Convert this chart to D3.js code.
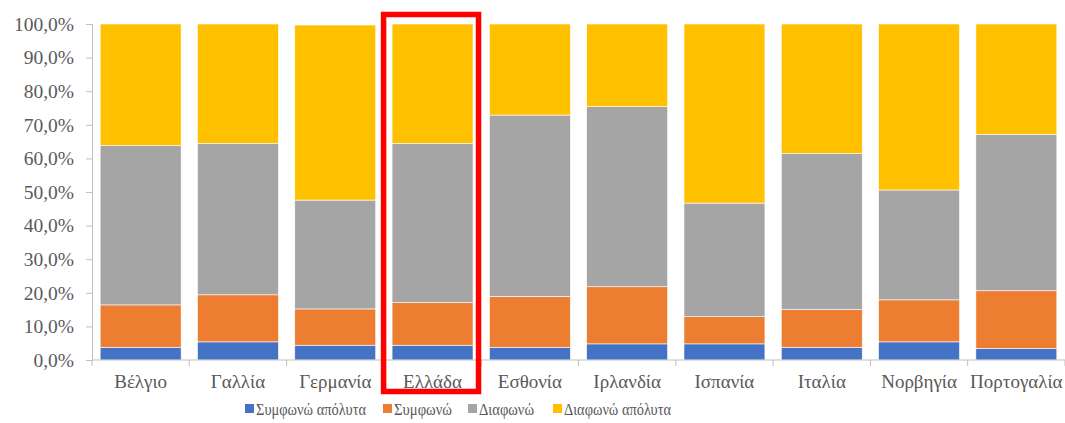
<!DOCTYPE html>
<html>
<head>
<meta charset="utf-8">
<script src="https://cdn.jsdelivr.net/npm/d3@7"></script>
<style>
  body { margin: 0; background: #fff; }
  svg text { font-family: "Liberation Serif", "Times New Roman", serif; fill: #595959; }
</style>
</head>
<body>
<svg id="chart" width="1065" height="423"></svg>
<script>
// countries along the x axis
const countries = ["Βέλγιο", "Γαλλία", "Γερμανία", "Ελλάδα", "Εσθονία", "Ιρλανδία", "Ισπανία", "Ιταλία", "Νορβηγία", "Πορτογαλία"];

// series (percent of answers)
const seriesNames = ["Συμφωνώ απόλυτα", "Συμφωνώ", "Διαφωνώ", "Διαφωνώ απόλυτα"];
const agreeFully    = [3.8, 5.4, 4.4, 4.4, 3.8, 4.8, 4.8, 3.8, 5.4, 3.4];
const agree         = [12.6, 14.0, 10.8, 12.7, 15.1, 17.0, 8.1, 11.2, 12.5, 17.2];
const disagree      = [47.4, 45.1, 32.4, 47.4, 54.0, 53.6, 33.8, 46.5, 32.7, 46.6];
const disagreeFully = [36.2, 35.5, 52.1, 35.5, 27.1, 24.6, 53.3, 38.5, 49.4, 32.8];

const yTicks = [0, 10, 20, 30, 40, 50, 60, 70, 80, 90, 100];
const highlighted = "Ελλάδα";

const colors = ["#4472C4", "#ED7D31", "#A5A5A5", "#FFC000"];

const svg = d3.select("#chart");
const plotLeft = 92, plotRight = 1065, plotTop = 24, plotBottom = 360;

const x = d3.scaleBand().domain(countries).range([plotLeft, plotRight]).paddingInner(0.168).paddingOuter(0.084);
const y = d3.scaleLinear().domain([0, 100]).range([plotBottom, plotTop]);

// build rows for the stack
const rows = countries.map((c, i) => ({
  country: c,
  [seriesNames[0]]: agreeFully[i],
  [seriesNames[1]]: agree[i],
  [seriesNames[2]]: disagree[i],
  [seriesNames[3]]: disagreeFully[i]
}));
const stacked = d3.stack().keys(seriesNames)(rows);

svg.append("g")
  .selectAll("g")
  .data(stacked)
  .join("g")
  .attr("fill", (d, i) => colors[i])
  .selectAll("rect")
  .data(d => d)
  .join("rect")
  .attr("x", d => x(d.data.country))
  .attr("width", x.bandwidth())
  .attr("y", d => y(d[1]))
  .attr("height", d => y(d[0]) - y(d[1]))
  .attr("stroke", "#ffffff")
  .attr("stroke-width", 0.6);

// y axis
const yAxis = svg.append("g")
  .attr("transform", `translate(${plotLeft},0)`)
  .call(d3.axisLeft(y).tickValues(yTicks).tickSize(6).tickPadding(12)
    .tickFormat(d => d3.format(".1f")(d).replace(".", ",") + "%"));
yAxis.select(".domain").attr("stroke", "#bfbfbf");
yAxis.selectAll(".tick line").attr("stroke", "#bfbfbf");
yAxis.selectAll(".tick text").attr("font-size", 19.5).attr("fill", "#595959");

// x axis with ticks at band boundaries
const xAxis = svg.append("g").attr("transform", `translate(0,${plotBottom})`);
xAxis.append("line").attr("x1", plotLeft).attr("x2", plotRight).attr("stroke", "#bfbfbf");
const step = x.step();
const boundaries = d3.range(countries.length).map(i => x(countries[i]) - step * x.paddingInner() / 2);
boundaries.push(plotRight);
xAxis.selectAll("line.tk")
  .data(boundaries)
  .join("line")
  .attr("class", "tk")
  .attr("x1", d => d).attr("x2", d => d)
  .attr("y1", 0).attr("y2", 6)
  .attr("stroke", "#bfbfbf");
xAxis.selectAll("text")
  .data(countries)
  .join("text")
  .attr("x", d => x(d) + x.bandwidth() / 2)
  .attr("y", 28)
  .attr("text-anchor", "middle")
  .attr("font-size", 19)
  .text(d => d);

// red highlight box around Greece
const hx = x(highlighted);
svg.append("rect")
  .attr("x", hx - 8.5)
  .attr("y", 14.5)
  .attr("width", x.bandwidth() + 14)
  .attr("height", 377)
  .attr("fill", "none")
  .attr("stroke", "#ff0000")
  .attr("stroke-width", 5.5);

// legend (text squeezed a bit, like the original)
const legendX = [245, 383, 468, 553];
const legendW = [110, 58, 55, 107];
const legend = svg.append("g");
seriesNames.forEach((name, i) => {
  legend.append("rect")
    .attr("x", legendX[i]).attr("y", 404)
    .attr("width", 9).attr("height", 9)
    .attr("fill", colors[i]);
  legend.append("text")
    .attr("x", legendX[i] + 11).attr("y", 415)
    .attr("font-size", 17)
    .attr("textLength", legendW[i])
    .attr("lengthAdjust", "spacingAndGlyphs")
    .text(name);
});
</script>
</body>
</html>
